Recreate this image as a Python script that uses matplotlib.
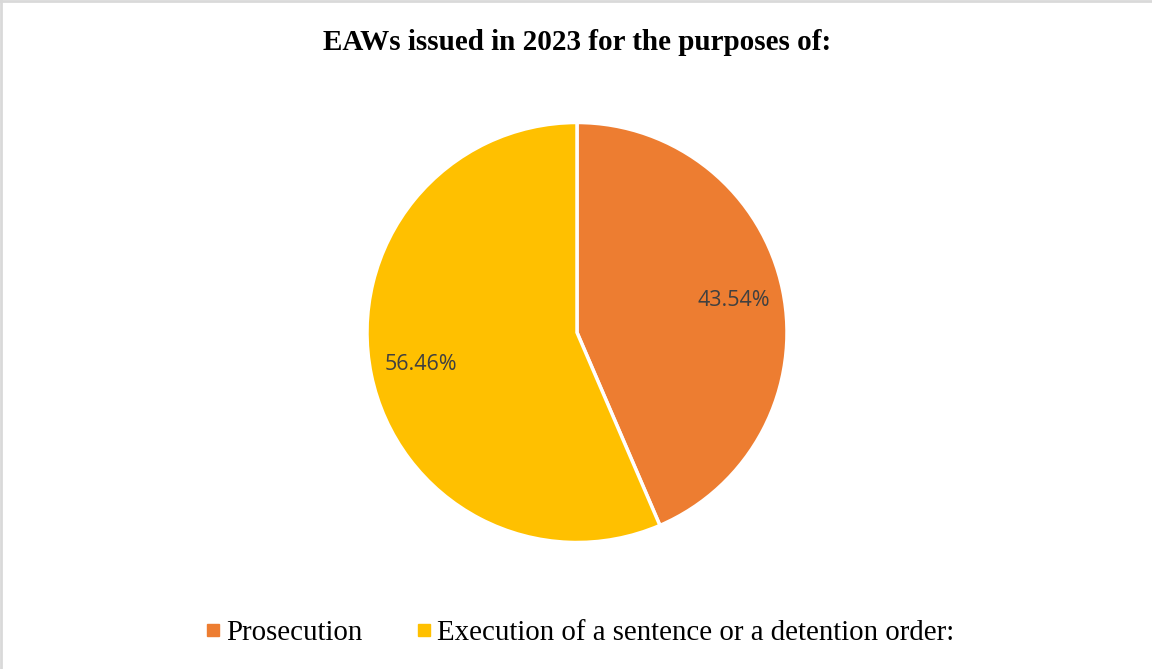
import matplotlib.pyplot as plt
from matplotlib.lines import Line2D

# EAW purposes, 2023 (shares in percent)
purposes = ['Prosecution', 'Execution of a sentence or a detention order:']
shares = [43.54, 56.46]
colors = ['#ED7D31', '#FFC000']

W, H = 1152, 669
fig = plt.figure(figsize=(W / 100, H / 100), dpi=100)

# pie centre / radius in pixels
cx, cy, r = 577, 332.5, 210
ax = fig.add_axes([(cx - r) / W, (H - cy - r) / H, 2 * r / W, 2 * r / H])
wedges, texts, autotexts = ax.pie(
    shares, colors=colors, startangle=90, counterclock=False,
    autopct='%.2f%%', pctdistance=0.76,
    wedgeprops=dict(edgecolor='white', linewidth=2.5),
    textprops=dict(color='#404040', fontsize=15.5, family='Open Sans'))
ax.set_xlim(-1, 1)
ax.set_ylim(-1, 1)
ax.set_aspect('equal')
ax.axis('off')

fig.text(577 / W, 1 - 43 / H, 'EAWs issued in 2023 for the purposes of:',
         ha='center', va='center', fontsize=21, fontweight='bold',
         family='Liberation Serif')

handles = [Line2D([], [], marker='s', linestyle='none', markersize=8,
                  markerfacecolor=c, markeredgecolor=c) for c in colors]
fig.legend(handles, purposes, loc='center', ncol=2, frameon=False,
           bbox_to_anchor=(578 / W, 1 - 633 / H),
           prop=dict(family='Liberation Serif', size=20.8),
           handletextpad=0.05, handlelength=0.8, columnspacing=1.75)

# thin grey frame on the top and left edges
fig.add_artist(Line2D([0, 1], [1 - 1 / H, 1 - 1 / H], color='#d9d9d9', lw=2,
                      transform=fig.transFigure))
fig.add_artist(Line2D([1 / W, 1 / W], [0, 1], color='#d9d9d9', lw=2,
                      transform=fig.transFigure))

fig.savefig('out.png', dpi=100)
